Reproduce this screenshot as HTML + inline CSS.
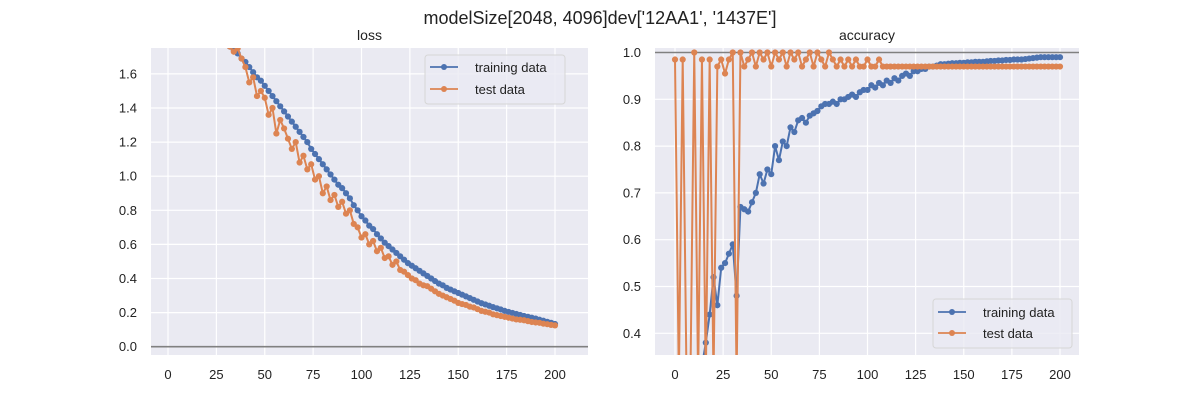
<!DOCTYPE html>
<html><head><meta charset="utf-8"><style>
html,body{margin:0;padding:0;background:#fff;width:1200px;height:400px;overflow:hidden;}
svg{display:block;font-family:"Liberation Sans","DejaVu Sans",sans-serif;}
</style></head><body>
<svg id="chart" width="1200" height="400" viewBox="0 0 1200 400">
<defs>
<clipPath id="clipL"><rect x="151" y="48" width="437" height="307"/></clipPath>
<clipPath id="clipR"><rect x="655" y="48" width="424" height="307"/></clipPath>
</defs>
<text x="600" y="24" text-anchor="middle" font-size="18" fill="#222">modelSize[2048, 4096]dev['12AA1', '1437E']</text>
<rect x="151" y="48" width="437" height="307" fill="#eaeaf2"/>
<rect x="655" y="48" width="424" height="307" fill="#eaeaf2"/>
<text x="369.5" y="40" text-anchor="middle" font-size="14" fill="#222">loss</text>
<text x="867" y="40" text-anchor="middle" font-size="14" fill="#222">accuracy</text>
<g id="gridL"></g><g id="gridR"></g>
<g id="marksL" clip-path="url(#clipL)"></g>
<g id="marksR" clip-path="url(#clipR)"></g>
<g id="legendL">
<rect x="425" y="55" width="140" height="49" rx="3" fill="#eaeaf2" fill-opacity="0.8" stroke="#d6d6d6"/>
<line x1="430" y1="67" x2="458" y2="67" stroke="#4c72b0" stroke-width="1.8"/><circle cx="444" cy="67" r="3" fill="#4c72b0"/>
<text x="475" y="72" font-size="13" fill="#222">training data</text>
<line x1="430" y1="89" x2="458" y2="89" stroke="#dd8452" stroke-width="1.8"/><circle cx="444" cy="89" r="3" fill="#dd8452"/>
<text x="475" y="94" font-size="13" fill="#222">test data</text>
</g>
<g id="legendR">
<rect x="933" y="299" width="139" height="49" rx="3" fill="#eaeaf2" fill-opacity="0.8" stroke="#d6d6d6"/>
<line x1="938" y1="312" x2="966" y2="312" stroke="#4c72b0" stroke-width="1.8"/><circle cx="952" cy="312" r="3" fill="#4c72b0"/>
<text x="983" y="317" font-size="13" fill="#222">training data</text>
<line x1="938" y1="333" x2="966" y2="333" stroke="#dd8452" stroke-width="1.8"/><circle cx="952" cy="333" r="3" fill="#dd8452"/>
<text x="983" y="338" font-size="13" fill="#222">test data</text>
</g>
</svg>
<script>
const epochs = [];
for (let e = 0; e <= 200; e += 2) epochs.push(e);
const trainLoss = [1.95,1.94,1.93,1.92,1.91,1.90,1.89,1.88,1.87,1.86,1.85,1.84,1.83,1.82,1.81,1.79,1.76,1.74,1.72,1.69,1.67,1.64,1.61,1.58,1.56,1.53,1.50,1.47,1.44,1.41,1.38,1.35,1.32,1.29,1.26,1.23,1.20,1.16,1.13,1.10,1.07,1.04,1.01,0.98,0.95,0.93,0.90,0.87,0.83,0.80,0.765,0.74,0.71,0.69,0.66,0.635,0.61,0.59,0.57,0.55,0.53,0.51,0.49,0.475,0.46,0.445,0.43,0.415,0.40,0.385,0.37,0.36,0.345,0.335,0.325,0.315,0.305,0.295,0.285,0.275,0.265,0.255,0.248,0.24,0.232,0.225,0.218,0.21,0.204,0.198,0.192,0.186,0.18,0.175,0.17,0.165,0.158,0.152,0.146,0.14,0.133];
const testLoss = [1.93,1.92,1.91,1.90,1.89,1.88,1.87,1.86,1.85,1.84,1.83,1.82,1.81,1.80,1.79,1.77,1.76,1.73,1.75,1.69,1.64,1.55,1.58,1.47,1.50,1.46,1.36,1.40,1.25,1.33,1.28,1.22,1.16,1.20,1.08,1.12,1.04,1.07,0.98,1.00,0.90,0.94,0.86,0.89,0.82,0.85,0.78,0.80,0.72,0.70,0.64,0.66,0.60,0.62,0.56,0.58,0.52,0.53,0.48,0.50,0.45,0.44,0.42,0.40,0.39,0.37,0.36,0.355,0.34,0.325,0.31,0.30,0.29,0.28,0.27,0.257,0.25,0.245,0.235,0.23,0.22,0.21,0.205,0.20,0.19,0.185,0.18,0.175,0.17,0.165,0.16,0.158,0.155,0.15,0.145,0.142,0.14,0.135,0.132,0.128,0.125];
const trainAcc = [0.30,0.30,0.30,0.30,0.31,0.31,0.32,0.33,0.38,0.44,0.52,0.46,0.54,0.55,0.57,0.59,0.48,0.67,0.665,0.66,0.68,0.70,0.74,0.72,0.75,0.74,0.80,0.77,0.81,0.80,0.84,0.83,0.855,0.86,0.85,0.865,0.87,0.875,0.885,0.89,0.89,0.895,0.89,0.90,0.90,0.905,0.91,0.905,0.915,0.92,0.92,0.93,0.925,0.935,0.93,0.94,0.935,0.945,0.94,0.95,0.955,0.95,0.96,0.96,0.965,0.965,0.97,0.97,0.972,0.975,0.975,0.976,0.977,0.977,0.978,0.978,0.979,0.979,0.98,0.98,0.98,0.981,0.982,0.982,0.983,0.983,0.984,0.984,0.985,0.985,0.985,0.986,0.987,0.988,0.989,0.99,0.99,0.99,0.99,0.99,0.99];
const testAcc = [0.985,0.3,0.985,0.3,0.3,1.0,0.3,0.985,0.3,0.985,0.3,0.97,0.985,0.955,0.985,1.0,0.3,1.0,0.97,0.985,1.0,0.97,1.0,0.985,1.0,0.97,1.0,0.985,1.0,0.97,1.0,0.985,1.0,0.97,0.985,1.0,0.97,1.0,0.985,0.97,1.0,0.985,0.97,0.985,0.97,0.985,0.97,0.985,0.97,0.97,0.985,0.97,0.97,0.985,0.97,0.97,0.97,0.97,0.97,0.97,0.97,0.97,0.97,0.97,0.97,0.97,0.97,0.97,0.97,0.97,0.97,0.97,0.97,0.97,0.97,0.97,0.97,0.97,0.97,0.97,0.97,0.97,0.97,0.97,0.97,0.97,0.97,0.97,0.97,0.97,0.97,0.97,0.97,0.97,0.97,0.97,0.97,0.97,0.97,0.97,0.97];
const xTicks = [0,25,50,75,100,125,150,175,200];
const lossTicks = ["0.0","0.2","0.4","0.6","0.8","1.0","1.2","1.4","1.6"];
const accTicks = ["0.4","0.5","0.6","0.7","0.8","0.9","1.0"];

const NS = "http://www.w3.org/2000/svg";
const svg = document.getElementById('chart');
function mk(tag, attrs, parent){const el=document.createElementNS(NS,tag);for(const k in attrs)el.setAttribute(k,attrs[k]);parent.appendChild(el);return el;}
const xL = e => 168 + e*(555-168)/200;
const yL = v => 346.7 - v*170.5;
const xR = e => 675 + e*(1060-675)/200;
const yR = v => 52.5 + (1.0 - v)*468;

function axes(g, xf, yf, ticksY, x0, x1, y0, y1, labelX, prefix){
  xTicks.forEach(t=>{
    const l=mk('line',{x1:xf(t),x2:xf(t),y1:y0,y2:y1,stroke:'#fff','stroke-width':1.2},g);
    
    
    const tx=mk('text',{x:xf(t),y:379,'text-anchor':'middle','font-size':13,fill:'#222'},g);
    tx.textContent=t;
    
    
  });
  ticksY.forEach(s=>{
    const v=parseFloat(s);
    const l=mk('line',{x1:x0,x2:x1,y1:yf(v),y2:yf(v),stroke:'#fff','stroke-width':1.2},g);
    
    
    const tx=mk('text',{x:labelX,y:yf(v)+4.5,'text-anchor':'end','font-size':13,fill:'#222'},g);
    tx.textContent=s;
    
    
  });
}
axes(document.getElementById('gridL'), xL, yL, lossTicks, 151, 588, 48, 355, 137, 'loss');
axes(document.getElementById('gridR'), xR, yR, accTicks, 655, 1079, 48, 355, 641, 'accuracy');

function series(g, xf, yf, vals, color, name){
  const pts = epochs.map((e,i)=>xf(e).toFixed(2)+','+yf(vals[i]).toFixed(2)).join(' ');
  const pl=mk('polyline',{points:pts,fill:'none',stroke:color,'stroke-width':2,'stroke-linejoin':'round'},g);
  
  
  epochs.forEach((e,i)=>{
    const c=mk('circle',{cx:xf(e),cy:yf(vals[i]),r:3.1,fill:color},g);
    
    
  });
}
const gL=document.getElementById('marksL'), gR=document.getElementById('marksR');
const hl=mk('line',{x1:151,x2:588,y1:yL(0),y2:yL(0),stroke:'#808080','stroke-width':1.6},gL);


const hr=mk('line',{x1:655,x2:1079,y1:yR(1),y2:yR(1),stroke:'#808080','stroke-width':1.6},gR);


series(gL, xL, yL, trainLoss, '#4c72b0', 'training-loss');
series(gL, xL, yL, testLoss, '#dd8452', 'test-loss');
series(gR, xR, yR, trainAcc, '#4c72b0', 'training-accuracy');
series(gR, xR, yR, testAcc, '#dd8452', 'test-accuracy');
svg.appendChild(document.getElementById('legendL'));
svg.appendChild(document.getElementById('legendR'));
</script>
</body></html>
